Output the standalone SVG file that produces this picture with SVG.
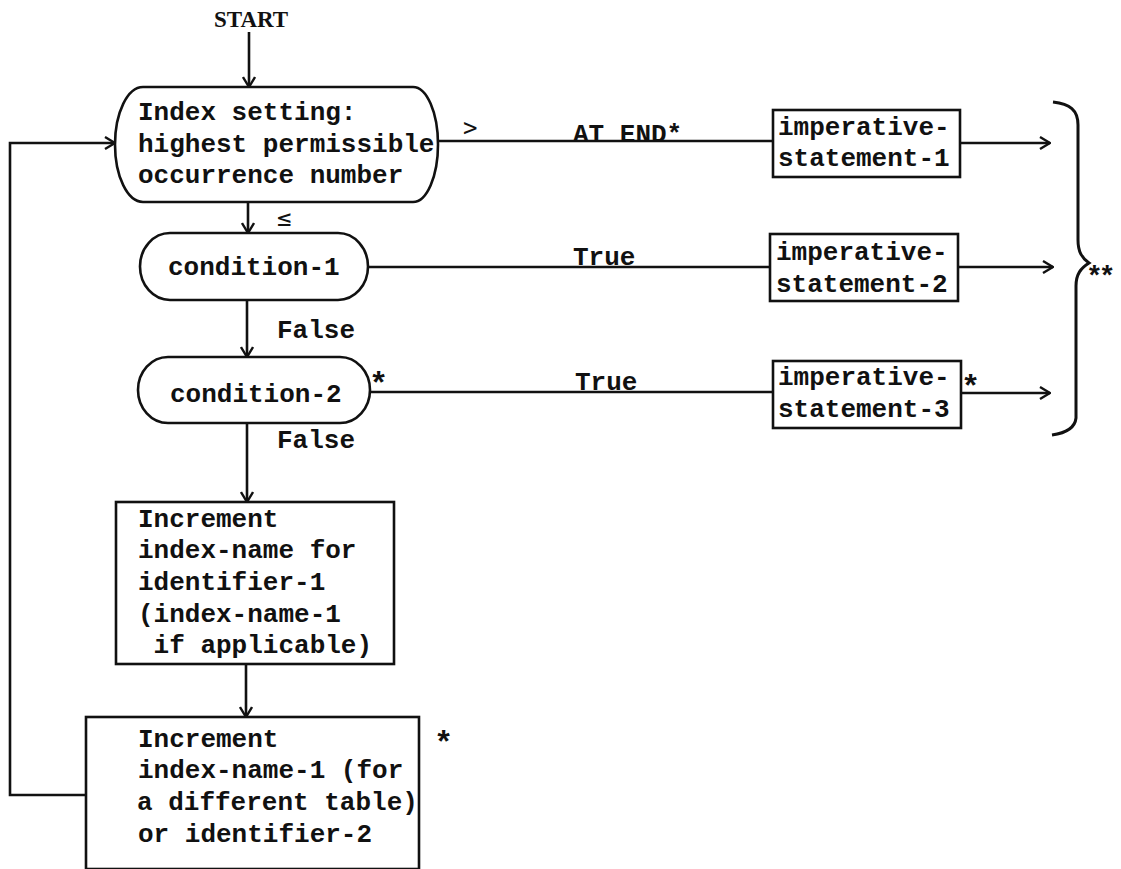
<svg xmlns="http://www.w3.org/2000/svg" width="1121" height="869" viewBox="0 0 1121 869">
  <style>
    .box { fill: #fff; stroke: #111; stroke-width: 2.6; }
    .t { font-family: "Liberation Mono", "DejaVu Sans Mono", monospace; font-weight: bold; font-size: 26px; fill: #111; }
    .star { font-family: "Liberation Mono", "DejaVu Sans Mono", monospace; font-weight: bold; font-size: 32px; fill: #111; }
    .sm { font-family: "DejaVu Sans Mono", "Liberation Mono", monospace; font-size: 24px; fill: #111; }
    .wire { fill: none; stroke: #111; stroke-width: 2.6; }
  </style>
  <defs>
    <marker id="arr" viewBox="0 0 12 14" refX="11" refY="7" markerWidth="12" markerHeight="14" markerUnits="userSpaceOnUse" orient="auto">
      <path d="M1,1 L11,7 L1,13" fill="none" stroke="#111" stroke-width="2.4"/>
    </marker>
  </defs>
  <rect width="1121" height="869" fill="#fff"/>

  <!-- entry point -->
  <g id="start">
    <text x="214" y="27" style="font-family:'Liberation Serif',serif;font-weight:bold;font-size:23px;fill:#111">START</text>
  </g>

  <!-- index setting test -->
  <g id="index-setting">
    <path class="box" d="M143,87 H413 A25,57.5 0 0 1 413,202 H143 A28,57.5 0 0 1 143,87 Z"/>
    <text class="t" x="138" y="120">Index setting:</text>
    <text class="t" x="138" y="152">highest permissible</text>
    <text class="t" x="138" y="183">occurrence number</text>
  </g>

  <g id="condition-1">
    <path class="box" d="M170,233 H338 A30,33.5 0 0 1 338,300 H170 A30,33.5 0 0 1 170,233 Z"/>
    <text class="t" x="168" y="275">condition-1</text>
  </g>

  <g id="condition-2">
    <path class="box" d="M168,357 H340 A30,33 0 0 1 340,423 H168 A30,33 0 0 1 168,357 Z"/>
    <text class="t" x="170" y="402">condition-2</text>
    <text class="star" x="369" y="394">*</text>
  </g>

  <g id="increment-1">
    <rect class="box" x="116" y="502" width="278" height="162"/>
    <text class="t" x="138" y="527">Increment</text>
    <text class="t" x="138" y="558">index-name for</text>
    <text class="t" x="138" y="590">identifier-1</text>
    <text class="t" x="138" y="622">(index-name-1</text>
    <text class="t" x="138" y="653" xml:space="preserve"> if applicable)</text>
  </g>

  <g id="increment-2">
    <rect class="box" x="86" y="717" width="333" height="152"/>
    <text class="t" x="138" y="747">Increment</text>
    <text class="t" x="138" y="778">index-name-1 (for</text>
    <text class="t" x="137" y="810">a different table)</text>
    <text class="t" x="138" y="842">or identifier-2</text>
    <text class="star" x="434" y="753">*</text>
  </g>

  <g id="imperative-1">
    <rect class="box" x="773" y="110" width="187" height="67"/>
    <text class="t" x="778" y="135">imperative-</text>
    <text class="t" x="778" y="166">statement-1</text>
  </g>

  <g id="imperative-2">
    <rect class="box" x="770" y="234" width="188" height="67"/>
    <text class="t" x="776" y="260">imperative-</text>
    <text class="t" x="776" y="292">statement-2</text>
  </g>

  <g id="imperative-3">
    <rect class="box" x="773" y="361" width="188" height="67"/>
    <text class="t" x="778" y="385">imperative-</text>
    <text class="t" x="778" y="417">statement-3</text>
    <text class="star" x="961" y="397">*</text>
  </g>

  <!-- closing brace gathering the three exits -->
  <g id="brace">
    <path d="M1053,102 C1070,104 1078,110 1078,125 V240 C1078,252 1082,258 1089,263 C1081,268 1076,274 1076,286 V418 C1075,428 1066,433 1052,435" fill="none" stroke="#111" stroke-width="3"/>
    <text class="star" x="1086" y="285" style="font-size:28px;letter-spacing:-4px">**</text>
  </g>

  <g id="connectors">
    <path class="wire" d="M249,32 V87" marker-end="url(#arr)"/>
    <path class="wire" d="M248,202 V233" marker-end="url(#arr)"/>
    <path class="wire" d="M247,300 V357" marker-end="url(#arr)"/>
    <path class="wire" d="M247,423 V502" marker-end="url(#arr)"/>
    <path class="wire" d="M246,664 V717" marker-end="url(#arr)"/>
    <path class="wire" d="M86,795 H10 V143 H115" marker-end="url(#arr)"/>
    <path class="wire" d="M438,141 H773"/>
    <path class="wire" d="M368,267 H770"/>
    <path class="wire" d="M370,392 H773"/>
    <path class="wire" d="M960,143 H1050" marker-end="url(#arr)"/>
    <path class="wire" d="M958,267 H1053" marker-end="url(#arr)"/>
    <path class="wire" d="M961,393 H1050" marker-end="url(#arr)"/>
    <text class="sm" x="277" y="226">≤</text>
    <text class="sm" x="463" y="136">&gt;</text>
    <text class="t" x="573" y="142">AT END*</text>
    <text class="t" x="573" y="265">True</text>
    <text class="t" x="575" y="390">True</text>
    <text class="t" x="277" y="338">False</text>
    <text class="t" x="277" y="448">False</text>
  </g>
</svg>
